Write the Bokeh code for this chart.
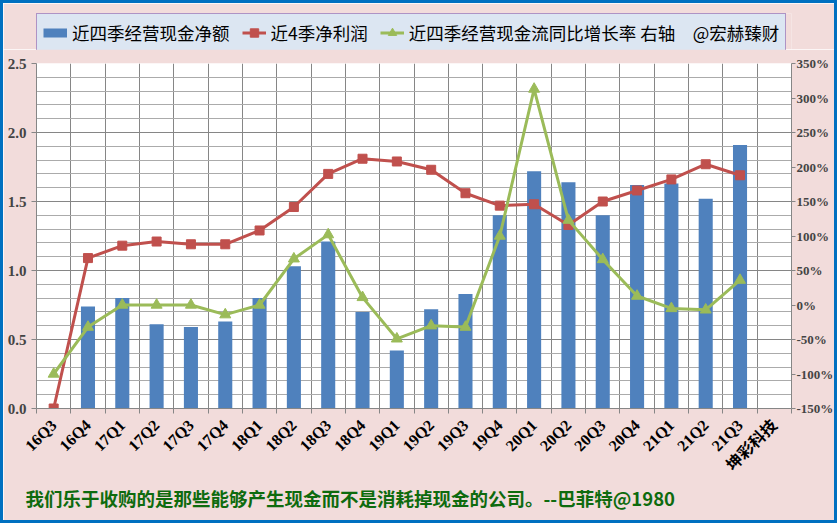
import math
import numpy as np
from bokeh.plotting import figure
from bokeh.layouts import column
from bokeh.models import (Range1d, LinearAxis, FixedTicker, PrintfTickFormatter,
                          CustomJSTickFormatter, Legend, LegendItem, Title, ColumnDataSource)
from bokeh.embed import file_html
from bokeh.resources import INLINE

# ---------------- data ----------------
quarters = ["16Q3", "16Q4", "17Q1", "17Q2", "17Q3", "17Q4", "18Q1", "18Q2", "18Q3", "18Q4",
            "19Q1", "19Q2", "19Q3", "19Q4", "20Q1", "20Q2", "20Q3", "20Q4", "21Q1", "21Q2", "21Q3"]
extra_label = "坤彩科技"
cash_ttm = [float("nan"), 0.74, 0.80, 0.61, 0.59, 0.63, 0.80, 1.03, 1.21, 0.70,
            0.42, 0.72, 0.83, 1.40, 1.72, 1.64, 1.40, 1.62, 1.63, 1.52, 1.91]
profit_ttm = [0.00, 1.09, 1.18, 1.21, 1.19, 1.19, 1.29, 1.46, 1.70, 1.81,
              1.79, 1.73, 1.56, 1.47, 1.48, 1.33, 1.50, 1.58, 1.66, 1.77, 1.69]
cash_yoy = [-100, -32, 0, 0, 0, -14, 0, 67, 102, 11,
            -49, -30, -32, 100, 313, 123, 66, 13, -5, -7, 36]
left_ticks = [0.0, 0.5, 1.0, 1.5, 2.0, 2.5]
right_ticks = [-150, -100, -50, 0, 50, 100, 150, 200, 250, 300, 350]
all_labels = quarters + [extra_label]
legend_labels = ["近四季经营现金净额", "近4季净利润", "近四季经营现金流同比增长率 右轴\u3000@宏赫臻财"]
footer = "我们乐于收购的是那些能够产生现金而不是消耗掉现金的公司。--巴菲特@1980"

BLUE = "#4F81BD"
RED = "#C0504D"
GREEN = "#9BBB59"
BG = "#F2DCDB"
EDGE = "3px solid #0070C0"
GRID_DARK = "#868686"
GRID_LIGHT = "#ABABAB"
LABEL_FONT = "Liberation Serif, Noto Sans CJK SC"

n = len(all_labels)
xc = np.arange(len(quarters)) + 0.5
src = ColumnDataSource(dict(x=xc, cash=cash_ttm, profit=profit_ttm, yoy=cash_yoy))

# ---------------- main chart ----------------
p = figure(width=837, height=474, output_backend="svg", toolbar_location=None,
           x_range=Range1d(0, n), y_range=Range1d(0, 2.5),
           min_border_left=33, min_border_right=49, min_border_top=14, min_border_bottom=115,
           background_fill_color="white", border_fill_color=BG)
p.styles = {"border-left": EDGE, "border-right": EDGE, "border-bottom": EDGE}
p.outline_line_color = None
p.extra_y_ranges = {"pct": Range1d(-150, 350)}

# x axis: labels at centers, ticks at boundaries (minor ticks)
xa = p.xaxis[0]
xa.ticker = FixedTicker(ticks=list(np.arange(n) + 0.5), minor_ticks=list(range(n + 1)))
xa.formatter = CustomJSTickFormatter(args=dict(labels=all_labels),
                                     code="return labels[Math.floor(tick)];")
xa.major_tick_line_color = None
xa.minor_tick_out = 5
xa.minor_tick_in = 0
xa.minor_tick_line_color = GRID_DARK
xa.axis_line_color = GRID_DARK
xa.major_label_orientation = math.pi / 4
xa.major_label_text_font = LABEL_FONT
xa.major_label_text_font_style = "bold"
xa.major_label_text_font_size = "16px"
xa.major_label_text_color = "black"
xa.major_label_standoff = 8

# left axis
ya = p.yaxis[0]
ya.ticker = FixedTicker(ticks=left_ticks)
ya.formatter = PrintfTickFormatter(format="%.1f")
ya.major_tick_out = 5
ya.major_tick_in = 0
ya.minor_tick_line_color = None
ya.major_tick_line_color = GRID_DARK
ya.axis_line_color = GRID_DARK
ya.major_label_text_font = LABEL_FONT
ya.major_label_text_font_style = "bold"
ya.major_label_text_font_size = "15px"
ya.major_label_standoff = 5

# right axis
ra = LinearAxis(y_range_name="pct", ticker=FixedTicker(ticks=right_ticks),
                formatter=PrintfTickFormatter(format="%d%%"))
ra.major_tick_out = 4
ra.major_tick_in = 0
ra.minor_tick_out = 0
ra.minor_tick_in = 0
ra.minor_tick_line_color = None
ra.major_tick_line_color = GRID_DARK
ra.axis_line_color = GRID_DARK
ra.major_label_text_font = LABEL_FONT
ra.major_label_text_font_style = "bold"
ra.major_label_text_font_size = "13px"
ra.major_label_standoff = 1
p.add_layout(ra, "right")

# grids
p.xgrid.ticker = FixedTicker(ticks=list(range(n + 1)))
p.xgrid.grid_line_color = GRID_DARK
p.ygrid.ticker = FixedTicker(ticks=left_ticks,
                             minor_ticks=[round(v * 0.1, 1) for v in range(26)])
p.ygrid.grid_line_color = GRID_DARK
p.ygrid.minor_grid_line_color = GRID_LIGHT

# glyphs
p.vbar(x="x", top="cash", width=0.41, source=src, fill_color=BLUE, line_color=None)
p.line(x="x", y="profit", source=src, line_color=RED, line_width=3)
p.scatter(x="x", y="profit", source=src, marker="square", size=9,
          fill_color=RED, line_color=RED)
p.line(x="x", y="yoy", source=src, line_color=GREEN, line_width=3, y_range_name="pct")
p.scatter(x="x", y="yoy", source=src, marker="triangle", size=11,
          fill_color=GREEN, line_color=GREEN, y_range_name="pct")

# footer quote
t = Title(text=footer, align="left", offset=-11, standoff=0,
          text_color="#0E6B0E", text_font="Noto Sans CJK SC",
          text_font_size="18.5px", text_font_style="bold")
p.add_layout(t, "below")

# ---------------- legend strip ----------------
lg = figure(width=837, height=49, output_backend="svg", toolbar_location=None,
            x_range=Range1d(0, 1), y_range=Range1d(0, 1),
            x_axis_location=None, y_axis_location=None,
            min_border_left=33, min_border_right=49, min_border_top=10, min_border_bottom=0,
            background_fill_color=BG, border_fill_color=BG)
lg.styles = {"border-left": EDGE, "border-right": EDGE, "border-top": EDGE}
lg.outline_line_color = None
lg.grid.visible = False
# legend-only renderers: their single sample sits outside the strip's ranges
dummy = ColumnDataSource(dict(x=[-5, -4], y=[-5, -4]))
sw = lg.line(x="x", y="y", source=dummy, line_color=BLUE, line_width=9, line_cap="butt")
rl = lg.line(x="x", y="y", source=dummy, line_color=RED, line_width=3)
rs = lg.scatter(x="x", y="y", source=dummy, marker="square", size=9,
                fill_color=RED, line_color=RED)
gl = lg.line(x="x", y="y", source=dummy, line_color=GREEN, line_width=3)
gs = lg.scatter(x="x", y="y", source=dummy, marker="triangle", size=11,
                fill_color=GREEN, line_color=GREEN)

legend = Legend(items=[LegendItem(label=legend_labels[0], renderers=[sw]),
                       LegendItem(label=legend_labels[1], renderers=[rl, rs]),
                       LegendItem(label=legend_labels[2], renderers=[gl, gs])],
                orientation="horizontal", location="top_left", margin=0,
                padding=6, spacing=12, label_standoff=5,
                glyph_width=24, glyph_height=21, label_height=21,
                label_text_font="Noto Sans CJK SC", label_text_font_size="17.5px",
                label_text_color="black",
                background_fill_color="#DCE6F2", background_fill_alpha=1.0,
                border_line_color="#7F3F98", border_line_width=1.5)
lg.add_layout(legend, "center")

page = column(lg, p, spacing=0)
open("out.html", "w").write(file_html(page, INLINE))
